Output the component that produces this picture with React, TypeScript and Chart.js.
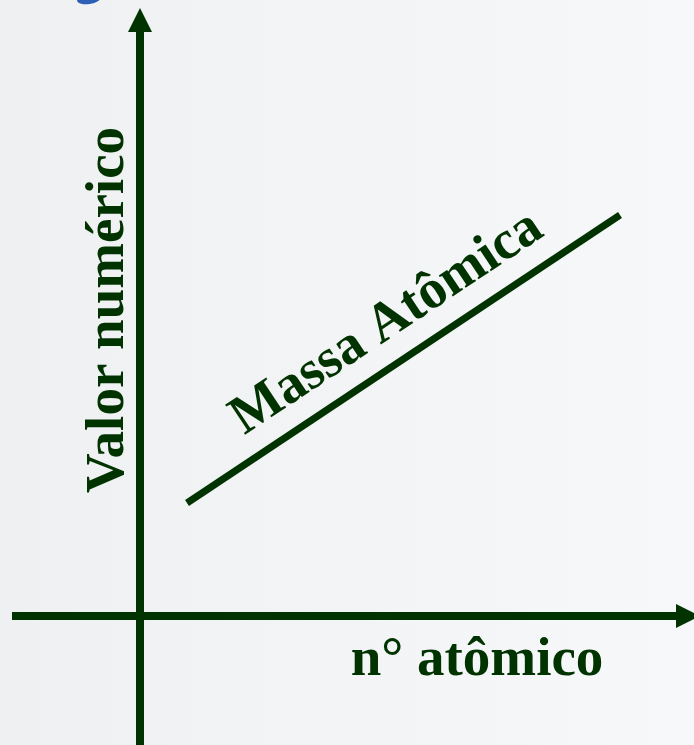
import React, { useEffect, useRef } from "react";
import { Chart, registerables } from "chart.js";

Chart.register(...registerables);

// Schematic coordinates (axis crossing at 0,0)
const xAxisLine = [
  { x: -12.8, y: 0 },
  { x: 53.6, y: 0 },
];
const yAxisLine = [
  { x: 0, y: -12.9 },
  { x: 0, y: 58.4 },
];
const xArrowTip = { x: 56.0, y: 0 };
const yArrowTip = { x: 0, y: 60.8 };
const massLine = [
  { x: 4.7, y: 11.3 },
  { x: 48.0, y: 40.1 },
];
const massLabel = "Massa Atômica";
const massLabelAnchor = { x: 25.5, y: 28.1 };
const yLabel = "Valor numérico";
const yLabelAnchor = { x: -1.7, y: 30.6 };
const xLabel = "n° atômico";
const xLabelAnchor = { x: 33.7, y: -5.9 };

const GREEN = "#003300";
const FONT = "bold 55px 'Liberation Serif', 'Times New Roman', serif";

const decorPlugin = {
  id: "decor",
  beforeDraw(chart: any) {
    const { ctx, width, height } = chart;
    ctx.save();
    const g = ctx.createLinearGradient(0, 0, width, 0);
    g.addColorStop(0, "#eff0f2");
    g.addColorStop(1, "#f7f8f9");
    ctx.fillStyle = g;
    ctx.fillRect(0, 0, width, height);
    // small blue decoration at top-left
    ctx.fillStyle = "#2c5fb5";
    ctx.beginPath();
    ctx.ellipse(89, -1, 12, 5, -0.15, 0, Math.PI * 2);
    ctx.fill();
    ctx.restore();
  },
  afterDatasetsDraw(chart: any) {
    const { ctx } = chart;
    const xs = chart.scales.x;
    const ys = chart.scales.y;
    const px = (p: { x: number; y: number }) => [xs.getPixelForValue(p.x), ys.getPixelForValue(p.y)];
    ctx.save();
    ctx.fillStyle = GREEN;
    // arrowheads
    const head = (tip: { x: number; y: number }, from: { x: number; y: number }) => {
      const [tx, ty] = px(tip);
      const [fx, fy] = px(from);
      const a = Math.atan2(ty - fy, tx - fx);
      const len = 24;
      const hw = 12;
      const bx = tx - Math.cos(a) * len;
      const by = ty - Math.sin(a) * len;
      ctx.beginPath();
      ctx.moveTo(tx, ty);
      ctx.lineTo(bx - Math.sin(a) * hw, by + Math.cos(a) * hw);
      ctx.lineTo(bx + Math.sin(a) * hw, by - Math.cos(a) * hw);
      ctx.closePath();
      ctx.fill();
    };
    head(xArrowTip, xAxisLine[0]);
    head(yArrowTip, yAxisLine[0]);

    ctx.font = FONT;
    ctx.textBaseline = "alphabetic";
    ctx.textAlign = "center";
    // mass label along line
    const [m1x, m1y] = px(massLine[0]);
    const [m2x, m2y] = px(massLine[1]);
    const ang = Math.atan2(m2y - m1y, m2x - m1x);
    const [ax, ay] = px(massLabelAnchor);
    ctx.save();
    ctx.translate(ax, ay);
    ctx.rotate(ang);
    ctx.fillText(massLabel, 0, 0);
    ctx.restore();
    // y label
    const [yx, yy] = px(yLabelAnchor);
    ctx.save();
    ctx.translate(yx, yy);
    ctx.rotate(-Math.PI / 2);
    ctx.fillText(yLabel, 0, 0);
    ctx.restore();
    // x label
    const [xx, xy] = px(xLabelAnchor);
    ctx.fillText(xLabel, xx, xy);
    ctx.restore();
  },
};

export default function App() {
  const ref = useRef<HTMLCanvasElement | null>(null);
  useEffect(() => {
    if (!ref.current) return;
    const chart = new Chart(ref.current, {
      type: "scatter",
      data: {
        datasets: [
          {
            data: xAxisLine,
            showLine: true,
            borderColor: GREEN,
            borderWidth: 8,
            borderCapStyle: "butt",
            pointRadius: 0,
            clip: false,
          },
          {
            data: yAxisLine,
            showLine: true,
            borderColor: GREEN,
            borderWidth: 8,
            borderCapStyle: "butt",
            pointRadius: 0,
            clip: false,
          },
          {
            data: massLine,
            showLine: true,
            borderColor: GREEN,
            borderWidth: 7,
            borderCapStyle: "butt",
            pointRadius: 0,
            clip: false,
          },
        ],
      } as any,
      options: {
        animation: false,
        responsive: false,
        events: [],
        layout: { padding: 0 },
        plugins: { legend: { display: false }, tooltip: { enabled: false } },
        scales: {
          x: { type: "linear", min: -14, max: 55.4, display: false },
          y: { type: "linear", min: -12.9, max: 61.6, display: false },
        },
      } as any,
      plugins: [decorPlugin],
    });
    return () => chart.destroy();
  }, []);
  return (
    <div style={{ position: "absolute", left: 0, top: 0, width: 694, height: 745 }}>
      <canvas ref={ref} width={694} height={745} style={{ width: 694, height: 745, display: "block" }} />
    </div>
  );
}
